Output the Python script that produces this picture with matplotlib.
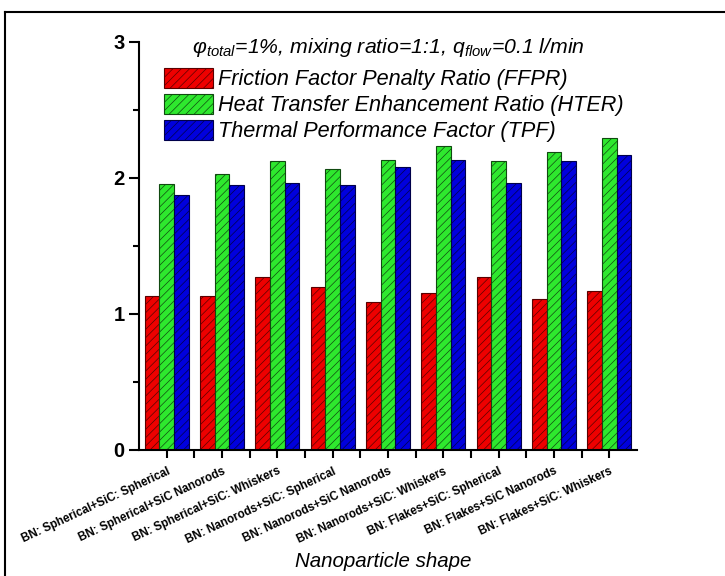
import matplotlib
matplotlib.use('Agg')
import matplotlib.pyplot as plt
import numpy as np
from matplotlib.lines import Line2D
from matplotlib.ticker import MultipleLocator

plt.rcParams['font.family'] = 'Liberation Sans'
plt.rcParams['mathtext.fontset'] = 'custom'
plt.rcParams['mathtext.rm'] = 'Liberation Sans'
plt.rcParams['mathtext.it'] = 'Liberation Sans:italic'
plt.rcParams['hatch.linewidth'] = 0.5

shapes = ['BN: Spherical+SiC: Spherical', 'BN: Spherical+SiC Nanorods',
          'BN: Spherical+SiC: Whiskers', 'BN: Nanorods+SiC: Spherical',
          'BN: Nanorods+SiC Nanorods', 'BN: Nanorods+SiC: Whiskers',
          'BN: Flakes+SiC: Spherical', 'BN: Flakes+SiC Nanorods',
          'BN: Flakes+SiC: Whiskers']
ffpr = [1.135, 1.13, 1.27, 1.20, 1.09, 1.15, 1.27, 1.11, 1.17]
hter = [1.957, 2.03, 2.12, 2.066, 2.13, 2.23, 2.12, 2.19, 2.29]
tpf = [1.875, 1.95, 1.96, 1.95, 2.08, 2.13, 1.96, 2.12, 2.17]

labels = ['Friction Factor Penalty Ratio (FFPR)',
          'Heat Transfer Enhancement Ratio (HTER)',
          'Thermal Performance Factor (TPF)']
colors = ['#ee0000', '#2ee82e', '#0000dd']
edges = ['#5a0000', '#104a10', '#00004a']

fig = plt.figure(figsize=(7.25, 5.76), dpi=100)
ax = fig.add_axes([0.1917, 0.2188, 0.687, 0.7088])

x = np.arange(len(shapes))
w = 0.265
for i, (vals, c, ec, lab) in enumerate(zip([ffpr, hter, tpf], colors, edges, labels)):
    ax.bar(x + (i - 1) * w, vals, w, color=c, edgecolor=ec,
           linewidth=0.8, hatch='////', label=lab)

ax.set_xlim(-0.5, len(shapes) - 0.5)
ax.set_ylim(0, 3)
ax.set_yticks([0, 1, 2, 3])
ax.yaxis.set_minor_locator(MultipleLocator(0.5))
ax.set_xticks(x)
ax.set_xticks(x[:-1] + 0.5, minor=True)
ax.set_xticklabels(shapes, rotation=25, ha='right', rotation_mode='anchor',
                   fontsize=8.4, fontweight='bold')
for t in ax.get_yticklabels():
    t.set_fontweight('bold')
    t.set_fontsize(14.5)
ax.tick_params(which='major', direction='out', length=7, width=1.5)
ax.tick_params(which='minor', direction='out', length=4, width=1.5)
ax.tick_params(axis='x', which='both', length=6, pad=5)

for s in ['top', 'right']:
    ax.spines[s].set_visible(False)
for s in ['left', 'bottom']:
    ax.spines[s].set_linewidth(1.5)

ax.set_xlabel('Nanoparticle shape', fontsize=14.8, style='italic')
ax.xaxis.set_label_coords(0.49, -0.25)

ax.text(0.106, 0.985, r'φ$_{total}$=1%, mixing ratio=1:1, q$_{flow}$=0.1 l/min',
        transform=ax.transAxes, ha='left', va='center', fontsize=15.3,
        style='italic')

ax.legend(loc='upper left', bbox_to_anchor=(0.05, 0.935), frameon=False,
          prop={'size': 15.6, 'style': 'italic'}, borderpad=0, borderaxespad=0,
          handlelength=2.28, handleheight=1.0, labelspacing=0.18,
          handletextpad=0.22)

fig.add_artist(Line2D([0.0069, 0.0069], [0, 0.979], color='black', lw=1.5))
fig.add_artist(Line2D([0.0069, 1], [0.979, 0.979], color='black', lw=1.5))

fig.savefig('out.png', dpi=100)
